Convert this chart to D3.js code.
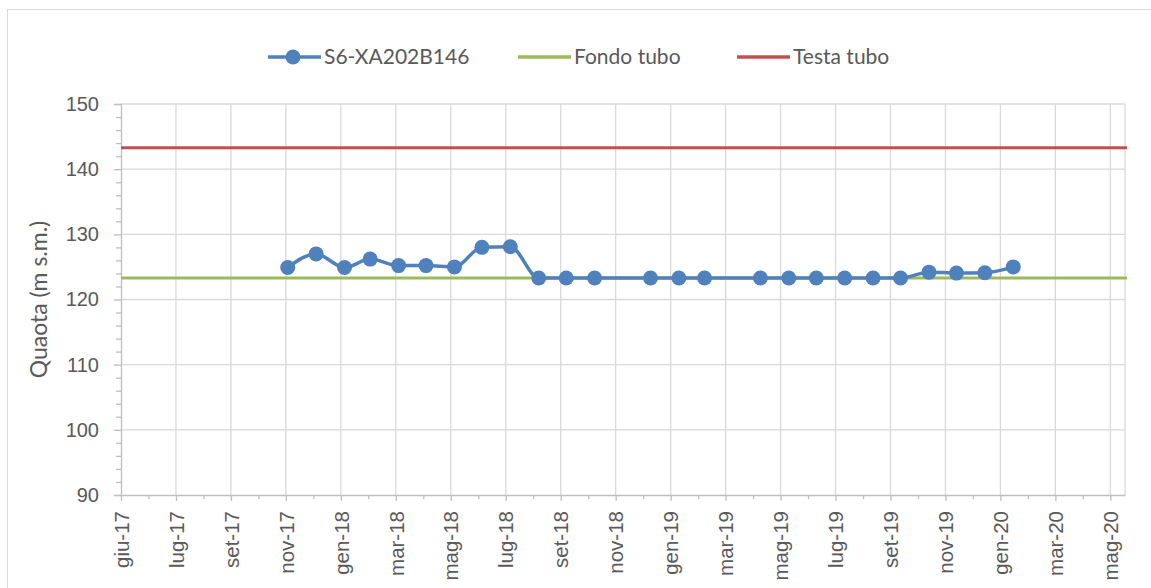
<!DOCTYPE html>
<head>
    <meta charset="utf-8">
    <style>
        body {
            margin: 0;
            background: #fff;
            font-family: Lato, "Open Sans", sans-serif;
        }

        .tick text {
            fill: #595959;
        }
    </style>

    <script src='https://d3js.org/d3.v7.min.js'></script>

</head>
<body>
    <script>
        // DATA (month-end readings)
        const dates = ['2017-11-30', '2017-12-31', '2018-01-31', '2018-02-28', '2018-03-31',
            '2018-04-30', '2018-05-31', '2018-06-30', '2018-07-31', '2018-08-31',
            '2018-09-30', '2018-10-31', '2018-12-31', '2019-01-31', '2019-02-28',
            '2019-04-30', '2019-05-31', '2019-06-30', '2019-07-31', '2019-08-31',
            '2019-09-30', '2019-10-31', '2019-11-30', '2019-12-31', '2020-01-31'];
        const levels = [124.9, 127.0, 124.9, 126.2, 125.2,
            125.2, 125.0, 128.0, 128.1, 123.3,
            123.3, 123.3, 123.3, 123.3, 123.3,
            123.3, 123.3, 123.3, 123.3, 123.3,
            123.3, 124.2, 124.05, 124.1, 125.0];
        const fondoTubo = 123.3;
        const testaTubo = 143.3;
        const seriesNames = ['S6-XA202B146', 'Fondo tubo', 'Testa tubo'];
        const tickDates = ['2017-06-01', '2017-07-31', '2017-09-29', '2017-11-28', '2018-01-27',
            '2018-03-28', '2018-05-27', '2018-07-26', '2018-09-24', '2018-11-23',
            '2019-01-22', '2019-03-23', '2019-05-22', '2019-07-21', '2019-09-19',
            '2019-11-18', '2020-01-17', '2020-03-17', '2020-05-16'];
        const xDomain = ['2017-06-01', '2020-06-01'];
        const yDomain = [90, 150];
        const mesi = ['gen', 'feb', 'mar', 'apr', 'mag', 'giu', 'lug', 'ago', 'set', 'ott', 'nov', 'dic'];

        //COLORS
        const blue = '#4f81bd', green = '#9bbb59', red = '#c0504d';
        const grid = '#d9d9d9', axisCol = '#bfbfbf', textCol = '#595959';

        const width = 1151, height = 588;
        const margin = {top: 104, right: 26, bottom: 93, left: 121};

        const parse = d3.utcParse('%Y-%m-%d');
        const fmt = d => mesi[d.getUTCMonth()] + '-' + String(d.getUTCFullYear()).slice(2);

        const x = d3.scaleUtc()
            .domain(xDomain.map(parse))
            .range([margin.left, width - margin.right]);

        const y = d3.scaleLinear()
            .domain(yDomain)
            .range([height - margin.bottom, margin.top]);

        const svg = d3.select('body').append('svg')
            .attr('width', width)
            .attr('height', height);

        // chart area border
        svg.append('rect')
            .attr('x', 7.5).attr('y', 9.5)
            .attr('width', width + 20).attr('height', height + 20)
            .attr('fill', 'none')
            .attr('stroke', grid);

        const ticks = tickDates.map(parse);
        // minor ticks halfway between the majors
        const minorTicks = d3.pairs(ticks).map(p => new Date((+p[0] + +p[1]) / 2));

        //GRID
        svg.append('g')
            .selectAll('line.vg')
            .data(ticks.slice(1))
            .join('line')
            .attr('x1', d => x(d)).attr('x2', d => x(d))
            .attr('y1', y(yDomain[0])).attr('y2', y(yDomain[1]))
            .attr('stroke', grid).attr('stroke-width', 1.3);

        svg.append('g')
            .selectAll('line.hg')
            .data(d3.range(100, 151, 10))
            .join('line')
            .attr('x1', x.range()[0]).attr('x2', x.range()[1])
            .attr('y1', d => y(d)).attr('y2', d => y(d))
            .attr('stroke', grid).attr('stroke-width', 1.3);

        // right border of the plot
        svg.append('line')
            .attr('x1', x.range()[1]).attr('x2', x.range()[1])
            .attr('y1', y(yDomain[0])).attr('y2', y(yDomain[1]))
            .attr('stroke', grid).attr('stroke-width', 1.3);

        //AXES
        const yAxis = svg.append('g')
            .attr('transform', `translate(${margin.left},0)`)
            .call(d3.axisLeft(y).tickValues(d3.range(90, 151, 10)).tickSize(7).tickPadding(15));
        yAxis.select('.domain').attr('stroke', axisCol).attr('stroke-width', 1.3);
        yAxis.selectAll('.tick line').attr('stroke', axisCol).attr('stroke-width', 1.3);
        yAxis.selectAll('.tick text').style('font-size', '20px');

        svg.append('g')
            .attr('transform', `translate(${margin.left},0)`)
            .call(d3.axisLeft(y).tickValues(d3.range(92, 150, 2).filter(v => v % 10)).tickSize(5).tickFormat(''))
            .call(g => g.select('.domain').remove())
            .selectAll('.tick line').attr('stroke', axisCol).attr('stroke-width', 1.3);

        const xAxis = svg.append('g')
            .attr('transform', `translate(0,${height - margin.bottom})`)
            .call(d3.axisBottom(x).tickValues(ticks).tickFormat(fmt).tickSize(6).tickSizeOuter(0));
        xAxis.select('.domain').attr('stroke', axisCol).attr('stroke-width', 1.3);
        xAxis.selectAll('.tick line').attr('stroke', axisCol).attr('stroke-width', 1.3);
        xAxis.selectAll('.tick text')
            .style('font-size', '20.5px')
            .attr('transform', 'rotate(-90)')
            .attr('text-anchor', 'end')
            .attr('x', -16)
            .attr('y', 0)
            .attr('dy', '0.35em');

        svg.append('g')
            .attr('transform', `translate(0,${height - margin.bottom})`)
            .call(d3.axisBottom(x).tickValues(minorTicks).tickSize(4).tickFormat(''))
            .call(g => g.select('.domain').remove())
            .selectAll('.tick line').attr('stroke', axisCol).attr('stroke-width', 1.3);

        // axis title
        svg.append('text')
            .attr('transform', `translate(47,${(y(yDomain[0]) + y(yDomain[1])) / 2}) rotate(-90)`)
            .attr('text-anchor', 'middle')
            .style('font-size', '23px')
            .attr('fill', textCol)
            .text('Quaota (m s.m.)');

        //REFERENCE LINES
        svg.append('line')
            .attr('x1', x.range()[0]).attr('x2', x.range()[1] + 2)
            .attr('y1', y(fondoTubo)).attr('y2', y(fondoTubo))
            .attr('stroke', green).attr('stroke-width', 3);

        svg.append('line')
            .attr('x1', x.range()[0]).attr('x2', x.range()[1] + 2)
            .attr('y1', y(testaTubo)).attr('y2', y(testaTubo))
            .attr('stroke', red).attr('stroke-width', 3);

        //SERIES
        const points = dates.map((d, i) => ({date: parse(d), value: levels[i]}));

        svg.append('path')
            .datum(points)
            .attr('fill', 'none')
            .attr('stroke', blue)
            .attr('stroke-width', 3.5)
            .attr('stroke-linejoin', 'round')
            .attr('d', d3.line().x(d => x(d.date)).y(d => y(d.value)).curve(d3.curveMonotoneX));

        svg.append('g')
            .selectAll('circle')
            .data(points)
            .join('circle')
            .attr('cx', d => x(d.date))
            .attr('cy', d => y(d.value))
            .attr('r', 7.5)
            .attr('fill', blue);

        //LEGEND
        const legendItems = [
            {name: seriesNames[0], color: blue, x0: 268, marker: true},
            {name: seriesNames[1], color: green, x0: 518, marker: false},
            {name: seriesNames[2], color: red, x0: 737, marker: false}
        ];
        const legend = svg.append('g').attr('transform', 'translate(0,57)');
        const item = legend.selectAll('g')
            .data(legendItems)
            .join('g')
            .attr('transform', d => `translate(${d.x0},0)`);
        item.append('line')
            .attr('x1', 0).attr('x2', 53)
            .attr('stroke', d => d.color)
            .attr('stroke-width', 3.5);
        item.filter(d => d.marker).append('circle')
            .attr('cx', 25).attr('r', 7.5)
            .attr('fill', d => d.color);
        item.append('text')
            .attr('x', 56)
            .attr('dy', '0.35em')
            .style('font-size', '21px')
            .attr('fill', textCol)
            .text(d => d.name);
    </script>
</body>
